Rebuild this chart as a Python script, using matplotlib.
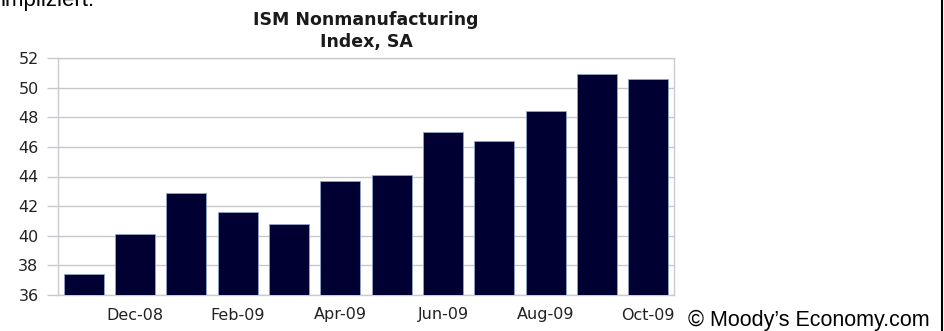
import matplotlib.pyplot as plt
from matplotlib.lines import Line2D

# ISM nonmanufacturing index, seasonally adjusted, Nov-08 .. Oct-09
months = ["Nov-08", "Dec-08", "Jan-09", "Feb-09", "Mar-09", "Apr-09",
          "May-09", "Jun-09", "Jul-09", "Aug-09", "Sep-09", "Oct-09"]
values = [37.4, 40.1, 42.9, 41.6, 40.8, 43.7, 44.1, 47.0, 46.4, 48.4, 50.9, 50.6]
yticks = [36, 38, 40, 42, 44, 46, 48, 50, 52]

W, H = 944, 331
fig = plt.figure(figsize=(W / 100, H / 100), dpi=100)

# plot area in pixel coords: left 58, right 674, top 58, bottom 295
ax = fig.add_axes([58 / W, 1 - 295 / H, (674 - 58) / W, (295 - 58) / H])

x = list(range(len(values)))
ax.bar(x, values, width=0.78, bottom=0, color="#000033",
       edgecolor="#8fa6c8", linewidth=0.6, zorder=3)

ax.set_xlim(-0.5, len(values) - 0.5)
ax.set_ylim(36, 52)
ax.set_yticks(yticks)
ax.set_yticklabels([str(v) for v in yticks])
ax.set_xticks(x[1::2])
ax.set_xticklabels(months[1::2])

ax.grid(axis="y", color="#c8c8c8", linewidth=1.0, zorder=0)
for side in ax.spines.values():
    side.set_color("#c8ccd2")
    side.set_linewidth(1.0)

ax.tick_params(axis="y", length=8, width=1.0, color="#c8c8c8", pad=6,
               labelsize=11.5, labelcolor="#222222")
ax.tick_params(axis="x", length=0, pad=9, labelsize=11.5, labelcolor="#222222")
for lab in ax.get_xticklabels() + ax.get_yticklabels():
    lab.set_fontfamily("DejaVu Sans")

ax.set_title("ISM Nonmanufacturing\nIndex, SA", fontsize=12.5, fontweight="bold",
             fontfamily="DejaVu Sans", color="#1a1a1a", linespacing=1.3, pad=8)

# surrounding page text
fig.text(0, 1 - 6 / H, "impliziert.", fontsize=16, fontfamily="Liberation Sans",
         ha="left", va="baseline", color="black")
fig.text(688 / W, 1 - 326 / H, "\u00a9 Moody\u2019s Economy.com", fontsize=15.5,
         fontfamily="Liberation Sans", ha="left", va="baseline", color="black")
fig.add_artist(Line2D([941.5 / W, 941.5 / W], [0, 1], color="black", linewidth=1.5,
                      transform=fig.transFigure))

fig.savefig("out.png", dpi=100)
